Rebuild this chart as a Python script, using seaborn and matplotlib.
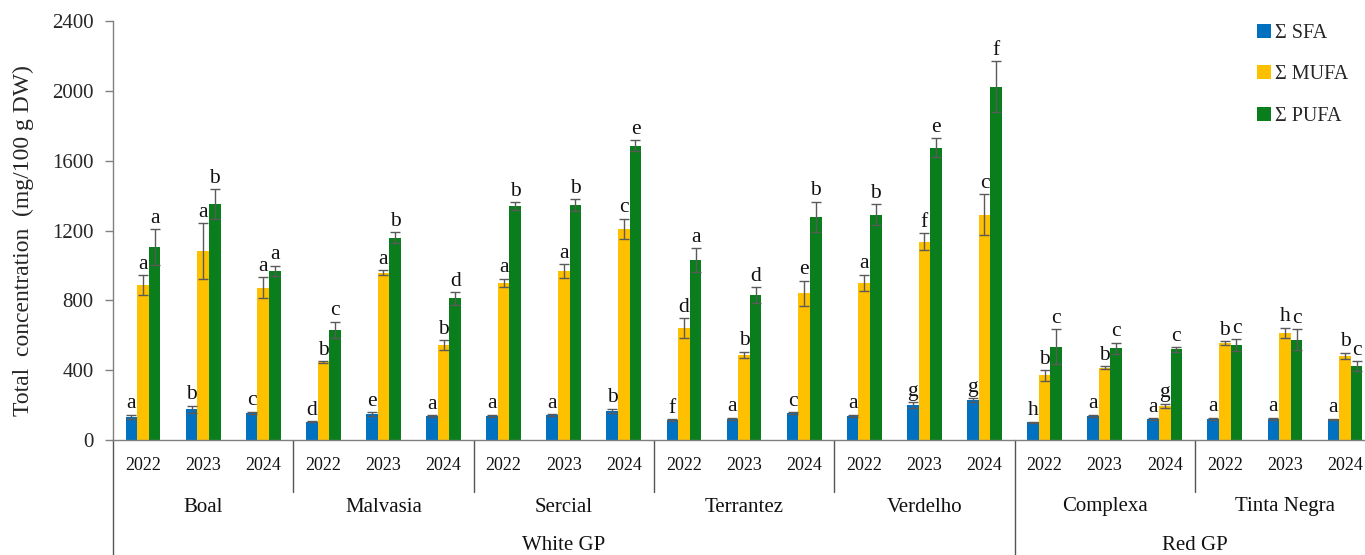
import numpy as np
import pandas as pd
import matplotlib
matplotlib.use("Agg")
import matplotlib.pyplot as plt
import matplotlib.transforms as mtransforms
import seaborn as sns

# ---- data -------------------------------------------------------------
varieties = ["Boal", "Malvasia", "Sercial", "Terrantez", "Verdelho", "Complexa", "Tinta Negra"]
years = ["2022", "2023", "2024"]
groups = ["White GP", "Red GP"]
group_sizes = [5, 2]  # varieties per grape group
series = ["Σ SFA", "Σ MUFA", "Σ PUFA"]

sfa = [133, 176, 156, 105, 149, 137, 137, 143, 168, 115, 122, 155,
       137, 200, 229, 101, 139, 118, 122, 122, 118]
mufa = [888, 1082, 872, 448, 958, 544, 901, 968, 1210, 640, 487, 840,
        901, 1136, 1290, 370, 414, 196, 554, 615, 481]
pufa = [1103, 1352, 968, 630, 1159, 811, 1340, 1346, 1686, 1031, 830, 1279,
        1291, 1674, 2024, 534, 525, 519, 542, 575, 424]

sfa_err = [12, 20, 6, 4, 10, 5, 8, 6, 11, 4, 5, 5, 8, 15, 10, 4, 6, 6, 5, 5, 5]
mufa_err = [57, 159, 59, 5, 15, 29, 23, 38, 57, 57, 19, 73, 46, 48, 118, 31, 10, 13, 11, 29, 19]
pufa_err = [103, 84, 30, 48, 31, 36, 21, 32, 31, 67, 44, 86, 61, 53, 147, 99, 32, 13, 34, 59, 29]

sfa_letters = list("abc" "dea" "aab" "fac" "agg" "haa" "aaa")
mufa_letters = list("aaa" "bab" "aac" "dbe" "afc" "bbg" "bhb")
pufa_letters = list("aba" "cbd" "bbe" "adb" "bef" "ccc" "ccc")

# ---- long-form table --------------------------------------------------
samples = [f"{v} {y}" for v in varieties for y in years]
values = {"Σ SFA": sfa, "Σ MUFA": mufa, "Σ PUFA": pufa}
errors = {"Σ SFA": sfa_err, "Σ MUFA": mufa_err, "Σ PUFA": pufa_err}
letters = {"Σ SFA": sfa_letters, "Σ MUFA": mufa_letters, "Σ PUFA": pufa_letters}
df = pd.DataFrame(
    [(s, name, values[name][i]) for name in series for i, s in enumerate(samples)],
    columns=["sample", "series", "value"],
)

palette = {"Σ SFA": "#0070C0", "Σ MUFA": "#FFC000", "Σ PUFA": "#0A7D1C"}

# ---- figure -----------------------------------------------------------
sns.set_theme(style="white")
plt.rcParams["font.family"] = ["Liberation Serif", "DejaVu Serif"]

W, H = 1365, 555
fig = plt.figure(figsize=(W / 100, H / 100), dpi=100)
n = len(samples)
ax_left, ax_bottom, ax_top = 113, 440, 21
step = 60.1
ax = fig.add_axes([ax_left / W, (H - ax_bottom) / H, (step * n) / W, (ax_bottom - ax_top) / H])

sns.barplot(data=df, x="sample", y="value", hue="series", order=samples,
            hue_order=series, palette=palette, width=0.58, gap=0,
            errorbar=None, saturation=1, linewidth=0, ax=ax)

ax.set_xlim(-0.5, n - 0.5)
ax.set_ylim(0, 2400)
ax.set_yticks(np.arange(0, 2401, 400))
ax.tick_params(axis="y", length=6, width=1, color="#808080", pad=8,
               labelsize=15, direction="out", left=True)
ax.set_xticks([])
ax.set_xlabel("")
for side in ("top", "right"):
    ax.spines[side].set_visible(False)
for side in ("left", "bottom"):
    ax.spines[side].set_color("#808080")
    ax.spines[side].set_linewidth(1)

ax.set_ylabel("Total  concentration  (mg/100 g DW)", fontsize=17)
ax.yaxis.set_label_coords((34 - ax_left) / (step * n), (ax_bottom - 241) / (ax_bottom - ax_top))

# error bars and significance letters
for container, name in zip(ax.containers, series):
    xs = [b.get_x() + b.get_width() / 2 for b in container]
    ys = [b.get_height() for b in container]
    ax.errorbar(xs, ys, yerr=errors[name], fmt="none", ecolor="#5a5a5a",
                elinewidth=1, capsize=3.5, capthick=1, zorder=3)
    for x, y, e, lab in zip(xs, ys, errors[name], letters[name]):
        ax.annotate(lab, (x, y + e), xytext=(0, 1), textcoords="offset points",
                    ha="center", va="bottom", fontsize=15.5, color="#111111")

# multi-level category axis
trans = mtransforms.blended_transform_factory(ax.transData, ax.transAxes)
axh = ax_bottom - ax_top
for i, s in enumerate(samples):
    ax.text(i, -26 / axh, s.split()[-1], transform=trans, ha="center",
            va="center", fontsize=13, color="#111111")
for k, v in enumerate(varieties):
    ax.text(3 * k + 1, -67 / axh, v, transform=trans, ha="center",
            va="center", fontsize=15, color="#111111")

line_kw = dict(transform=trans, color="#555555", lw=1, clip_on=False)
ax.plot([-0.5, -0.5], [0, -0.3], **line_kw)
start = 0
boundaries = []
for g, size in zip(groups, group_sizes):
    end = start + size * 3
    ax.text((start + end - 1) / 2, -105 / axh, g, transform=trans, ha="center",
            va="center", fontsize=15, color="#111111")
    boundaries.append(end - 0.5)
    start = end
for k in range(1, len(varieties)):
    xb = 3 * k - 0.5
    bottom = -0.3 if xb in boundaries else -52 / axh
    ax.plot([xb, xb], [0, bottom], **line_kw)

# legend
handles, labels = ax.get_legend_handles_labels()
ax.legend(handles, labels, loc="upper left", bbox_to_anchor=(1249 / W, 1 - 16 / H),
          bbox_transform=fig.transFigure, frameon=False, fontsize=14.5,
          handlelength=0.7, handleheight=0.7, handletextpad=0.2,
          labelspacing=1.1, borderaxespad=0)

fig.savefig("out.png", dpi=100)
